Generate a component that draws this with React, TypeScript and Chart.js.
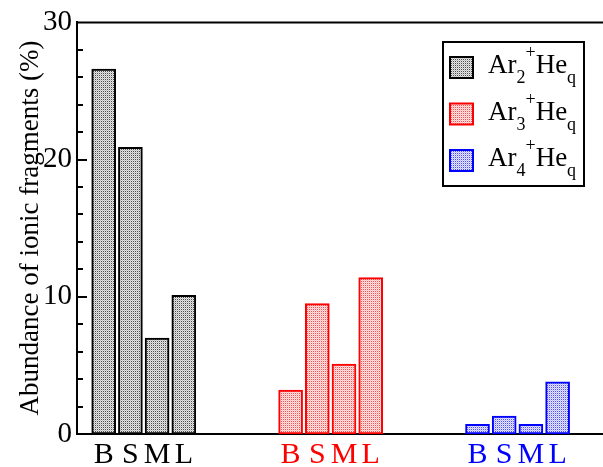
import React, { useEffect, useRef } from "react";
import { Chart, registerables } from "chart.js";

Chart.register(...registerables);

const barLabels = ["B", "S", "M", "L"];
const ar2Positions = [0, 1, 2, 3];
const ar3Positions = [7, 8, 9, 10];
const ar4Positions = [14, 15, 16, 17];
const ar2Values = [26.6, 20.9, 7.0, 10.1];
const ar3Values = [3.2, 9.5, 5.1, 11.4];
const ar4Values = [0.7, 1.3, 0.7, 3.8];
const seriesColors = ["#000000", "#ff0000", "#0000ff"];
const seriesSubscripts = ["2", "3", "4"];
const yTickValues = [0, 10, 20, 30];
const yTitle = "Abundance of ionic fragments (%)";

const SERIF = '"Liberation Serif", "DejaVu Serif", serif';

function makePattern(color: string): CanvasPattern | string {
  const c = document.createElement("canvas");
  c.width = 4;
  c.height = 4;
  const g = c.getContext("2d");
  if (!g) return color;
  g.fillStyle = "#ffffff";
  g.fillRect(0, 0, 4, 4);
  g.fillStyle = color;
  g.globalAlpha = 0.7;
  [[1, 1], [3, 3], [1, 3], [3, 1]].forEach(([x, y]) => g.fillRect(x, y, 1, 1));
  g.globalAlpha = 0.25;
  [[0, 0], [2, 2], [0, 2], [2, 0]].forEach(([x, y]) => g.fillRect(x, y, 1, 1));
  g.globalAlpha = 0.1;
  [[1, 0], [3, 0], [0, 1], [2, 1], [1, 2], [3, 2], [0, 3], [2, 3]].forEach(([x, y]) => g.fillRect(x, y, 1, 1));
  const p = g.createPattern(c, "repeat");
  return p || color;
}

export default function App() {
  const ref = useRef<HTMLCanvasElement | null>(null);

  useEffect(() => {
    if (!ref.current) return;
    const patterns = seriesColors.map((c) => makePattern(c));
    const allPositions = [...ar2Positions, ...ar3Positions, ...ar4Positions];
    const groups = [
      { pos: ar2Positions, vals: ar2Values },
      { pos: ar3Positions, vals: ar3Values },
      { pos: ar4Positions, vals: ar4Values },
    ];

    const decorPlugin = {
      id: "decor",
      afterDraw(chart: any) {
        const ctx: CanvasRenderingContext2D = chart.ctx;
        const area = chart.chartArea;
        const yScale = chart.scales.y;
        ctx.save();
        // top line
        ctx.strokeStyle = "#000";
        ctx.lineWidth = 2;
        ctx.beginPath();
        ctx.moveTo(area.left - 1, area.top);
        ctx.lineTo(chart.width, area.top);
        ctx.stroke();
        // inner ticks
        for (let v = 2; v < 30; v += 2) {
          const y = Math.round(yScale.getPixelForValue(v));
          const len = v % 10 === 0 ? 10 : 6;
          ctx.beginPath();
          ctx.moveTo(area.left, y);
          ctx.lineTo(area.left + len, y);
          ctx.stroke();
        }
        // y title
        ctx.save();
        ctx.translate(38, 228);
        ctx.rotate(-Math.PI / 2);
        ctx.fillStyle = "#000";
        ctx.font = `27px ${SERIF}`;
        ctx.textAlign = "center";
        ctx.textBaseline = "alphabetic";
        ctx.fillText(yTitle, 0, 0);
        ctx.restore();
        // legend
        const lx = 443, ly = 42, lw = 141, lh = 144;
        ctx.fillStyle = "#fff";
        ctx.fillRect(lx, ly, lw, lh);
        ctx.strokeStyle = "#000";
        ctx.lineWidth = 2;
        ctx.strokeRect(lx, ly, lw, lh);
        const rowStep = 46.5;
        for (let i = 0; i < 3; i++) {
          const sy = 57 + i * rowStep;
          ctx.fillStyle = patterns[i] as any;
          ctx.fillRect(450, sy, 23, 21);
          ctx.strokeStyle = seriesColors[i];
          ctx.lineWidth = 2;
          ctx.strokeRect(450, sy, 23, 21);
          const base = 73 + i * rowStep;
          let x = 488;
          ctx.fillStyle = "#000";
          ctx.textAlign = "left";
          ctx.textBaseline = "alphabetic";
          ctx.font = `27px ${SERIF}`;
          ctx.fillText("Ar", x, base);
          x += ctx.measureText("Ar").width;
          ctx.font = `18px ${SERIF}`;
          ctx.fillText(seriesSubscripts[i], x, base + 10);
          x += ctx.measureText(seriesSubscripts[i]).width;
          ctx.fillText("+", x, base - 15);
          x += ctx.measureText("+").width;
          ctx.font = `27px ${SERIF}`;
          ctx.fillText("He", x, base);
          x += ctx.measureText("He").width;
          ctx.font = `18px ${SERIF}`;
          ctx.fillText("q", x, base + 10);
        }
        ctx.restore();
      },
    };

    const chart = new Chart(ref.current, {
      type: "bar",
      data: {
        datasets: groups.map((g, i) => ({
          label: "Ar" + seriesSubscripts[i] + "+Heq",
          data: g.pos.map((x, j) => ({ x, y: g.vals[j] })),
          backgroundColor: patterns[i] as any,
          borderColor: seriesColors[i],
          borderWidth: 2,
          borderSkipped: false,
          barThickness: 24,
          grouped: false,
        })),
      } as any,
      options: {
        responsive: false,
        animation: false,
        layout: { padding: { top: 17, left: 0, right: 0, bottom: 0 } },
        plugins: {
          legend: { display: false },
          tooltip: { enabled: false },
        },
        scales: {
          x: {
            type: "linear",
            min: -1,
            max: 18.7,
            offset: false,
            grid: { display: false, drawTicks: false },
            border: { display: true, color: "#000", width: 2 },
            afterBuildTicks: (scale: any) => {
              scale.ticks = allPositions.map((v) => ({ value: v }));
            },
            afterFit: (scale: any) => {
              scale.height = 33;
            },
            ticks: {
              autoSkip: false,
              maxRotation: 0,
              padding: 3,
              font: { family: SERIF, size: 30 },
              color: (ctx: any) => seriesColors[Math.floor(ctx.index / 4)] || "#000",
              callback: (_v: any, index: number) => barLabels[index % 4],
            },
          },
          y: {
            min: 0,
            max: 30,
            grid: { display: false, drawTicks: false },
            border: { display: true, color: "#000", width: 2 },
            afterBuildTicks: (scale: any) => {
              scale.ticks = yTickValues.map((v) => ({ value: v }));
            },
            afterFit: (scale: any) => {
              scale.width = 77;
            },
            ticks: {
              padding: 5,
              color: "#000",
              font: { family: SERIF, size: 29 },
            },
          },
        } as any,
      },
      plugins: [decorPlugin],
    } as any);

    return () => chart.destroy();
  }, []);

  return (
    <div style={{ position: "absolute", left: 0, top: 0, width: 603, height: 467, overflow: "hidden", background: "#fff" }}>
      <canvas ref={ref} width={603} height={467} />
    </div>
  );
}
